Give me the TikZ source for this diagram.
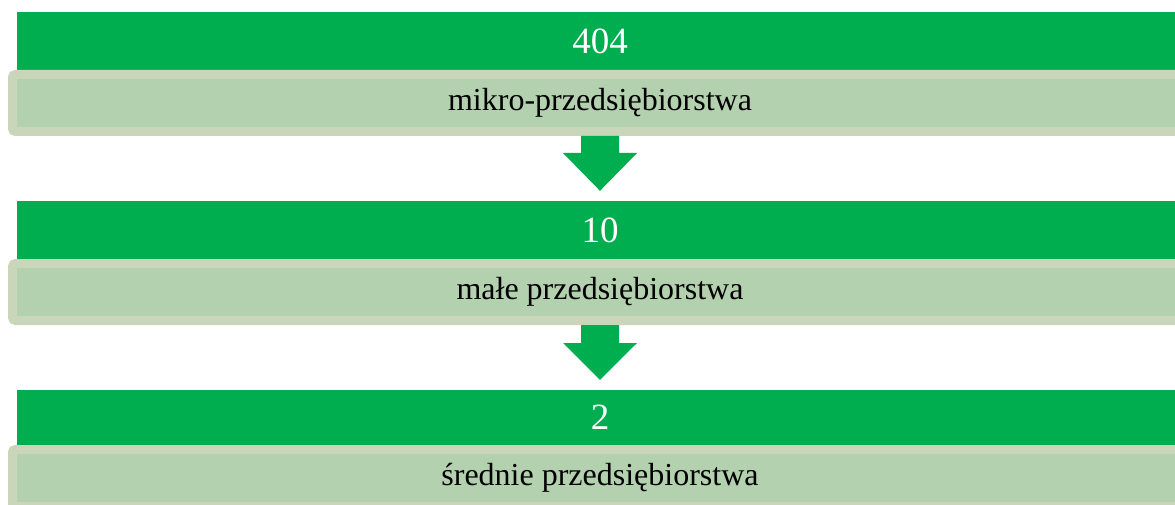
\documentclass[tikz,border=0pt]{standalone}
\usepackage{fontspec}
\setmainfont{Liberation Serif}
\usetikzlibrary{calc,backgrounds}

\definecolor{hdgreen}{RGB}{0,174,80}
\definecolor{lbfill}{RGB}{179,209,174}
\definecolor{lbborder}{RGB}{202,214,185}

\begin{document}
\begin{tikzpicture}[x=1pt,y=-1pt,
    header/.style={fill=hdgreen,text=white,minimum width=1166pt,inner sep=0pt,
        font=\fontsize{37}{44}\selectfont},
    lbox/.style={fill=lbfill,draw=lbborder,line width=9pt,rounded corners=3pt,
        minimum width=1175pt,minimum height=57pt,inner sep=0pt,
        font=\fontsize{32}{38}\selectfont},
    flowarrow/.style={fill=hdgreen}]
    \useasboundingbox (0,0) rectangle (1175,505);
    \clip (0,0) rectangle (1175,505);

    % poziom 1
    \node[header,minimum height=58pt] (hd1) at (600,41) {404};
    \node[lbox] (lb1) at (600,103) {mikro-przedsiębiorstwa};
    % poziom 2
    \node[header,minimum height=58pt] (hd2) at (600,230) {10};
    \node[lbox] (lb2) at (600,292) {małe przedsiębiorstwa};
    % poziom 3
    \node[header,minimum height=55pt] (hd3) at (600,417.5) {2};
    \node[lbox] (lb3) at (600,478) {średnie przedsiębiorstwa};

    % strzalki
    \fill[flowarrow] ($(lb1.south)+(-19,0)$) -- ($(lb1.south)+(19,0)$) -- ($(lb1.south)+(19,17)$)
        -- ($(lb1.south)+(37,17)$) -- ($(hd2.north)+(0,-10)$) -- ($(lb1.south)+(-37,17)$)
        -- ($(lb1.south)+(-19,17)$) -- cycle;
    \fill[flowarrow] ($(lb2.south)+(-19,0)$) -- ($(lb2.south)+(19,0)$) -- ($(lb2.south)+(19,18)$)
        -- ($(lb2.south)+(37,18)$) -- ($(hd3.north)+(0,-10)$) -- ($(lb2.south)+(-37,18)$)
        -- ($(lb2.south)+(-19,18)$) -- cycle;
\end{tikzpicture}
\end{document}
